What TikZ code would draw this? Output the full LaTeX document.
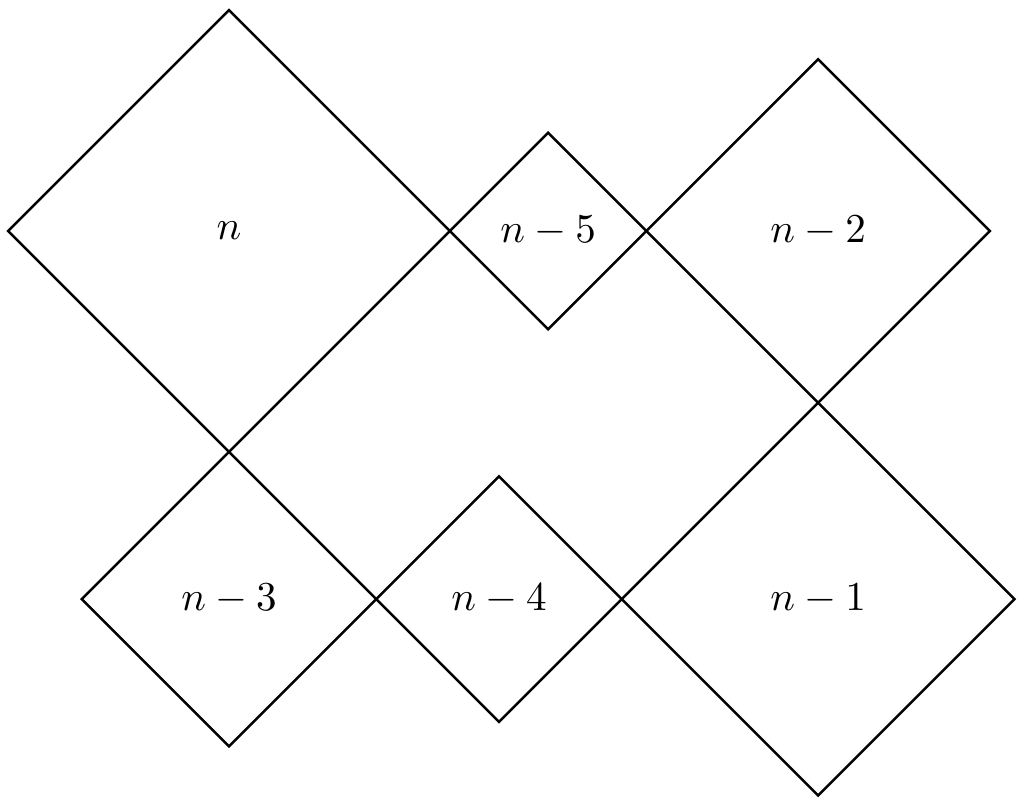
\documentclass[tikz,border=0pt]{standalone}
\usetikzlibrary{shapes.geometric}
\tikzset{sq/.style={diamond, draw, semithick, inner sep=0pt, outer sep=0pt, minimum size=#1*0.42cm}}
\begin{document}
\begin{tikzpicture}[x=0.21cm,y=0.21cm]
      \useasboundingbox (-9.33,-23.34) rectangle (32.47,9.41);
      \node[sq=9] (0) at (0,0) {$n$};
      \node[sq=4] (5) at (13,0) {$n-5$};
      \node[sq=7] (2) at (24,0) {$n-2$};
      \node[sq=6] (3) at (0,-15) {$n-3$};
      \node[sq=5] (4) at (11,-15) {$n-4$};
      \node[sq=8] (1) at (24,-15) {$n-1$};
    \end{tikzpicture}
\end{document}
